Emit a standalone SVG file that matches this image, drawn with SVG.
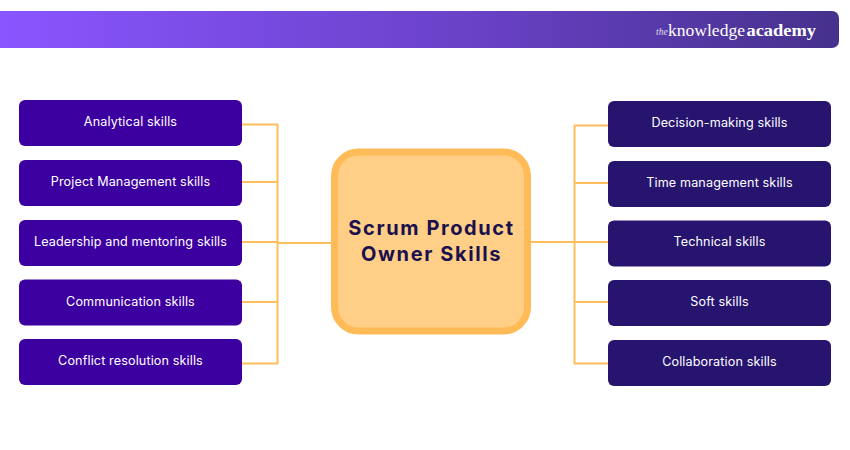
<svg xmlns="http://www.w3.org/2000/svg" width="850" height="450" viewBox="0 0 850 450">
<style>
.l{fill:#3d00a0}.r{fill:#26146f}
.t{font-family:"Inter","Noto Sans","Liberation Sans",sans-serif;font-size:12.6px;letter-spacing:.13px;fill:#fff;text-anchor:middle}
.c{fill:none;stroke:#ffbd5c;stroke-width:2}
.h{font-family:"Inter","Noto Sans","Liberation Sans",sans-serif;font-size:20px;font-weight:700;letter-spacing:1.6px;fill:#1b0f4d;text-anchor:middle}
.s{font-family:"Liberation Serif",serif;fill:#fff}
</style>
<defs><linearGradient id="g" x1="0" y1="0" x2="1" y2="0"><stop offset="0" stop-color="#8a55ff"/><stop offset=".55" stop-color="#6a42c8"/><stop offset="1" stop-color="#46318c"/></linearGradient></defs>
<g id="banner"><path d="M0 11H832a7 7 0 0 1 7 7V41a7 7 0 0 1-7 7H0Z" fill="url(#g)"/>
<text class="s" x="656" y="35" font-size="9.500" font-style="italic" opacity=".8">the</text>
<text class="s" x="668" y="36" font-size="17.500" textLength="77" lengthAdjust="spacingAndGlyphs">knowledge</text>
<text class="s" x="746.500" y="36" font-size="17.500" font-weight="700" textLength="69.500" lengthAdjust="spacingAndGlyphs">academy</text></g>
<g id="connectors">
<path class="c" d="M242 124.500H277.500V363.500H242M242 182H277.500M242 242H277.500M242 302H277.500M278 243H332"/>
<path class="c" d="M608 125.500H574.500V363.500H608M608 183H574.500M608 242H574.500M608 302H574.500M574 242H531"/>
</g>
<g id="center"><rect x="334.500" y="152" width="193" height="179" rx="24" fill="#ffcf87" stroke="#ffbb57" stroke-width="7"/>
<text class="h" x="431.500" y="234.500">Scrum Product</text><text class="h" x="431.500" y="261">Owner Skills</text></g>
<g id="n1"><rect class="l" x="19" y="100" width="223" height="46" rx="6"/><text class="t" x="130.500" y="126">Analytical skills</text></g>
<g id="n2"><rect class="l" x="19" y="160" width="223" height="46" rx="6"/><text class="t" x="130.500" y="186">Project Management skills</text></g>
<g id="n3"><rect class="l" x="19" y="220" width="223" height="46" rx="6"/><text class="t" x="130.500" y="246">Leadership and mentoring skills</text></g>
<g id="n4"><rect class="l" x="19" y="279.500" width="223" height="46" rx="6"/><text class="t" x="130.500" y="306">Communication skills</text></g>
<g id="n5"><rect class="l" x="19" y="339" width="223" height="46" rx="6"/><text class="t" x="130.500" y="365">Conflict resolution skills</text></g>
<g id="n6"><rect class="r" x="608" y="101" width="223" height="46" rx="6"/><text class="t" x="719.500" y="127">Decision-making skills</text></g>
<g id="n7"><rect class="r" x="608" y="161" width="223" height="46" rx="6"/><text class="t" x="719.500" y="187">Time management skills</text></g>
<g id="n8"><rect class="r" x="608" y="220.500" width="223" height="46" rx="6"/><text class="t" x="719.500" y="246">Technical skills</text></g>
<g id="n9"><rect class="r" x="608" y="280" width="223" height="46" rx="6"/><text class="t" x="719.500" y="306">Soft skills</text></g>
<g id="n10"><rect class="r" x="608" y="340" width="223" height="46" rx="6"/><text class="t" x="719.500" y="366">Collaboration skills</text></g>
</svg>
